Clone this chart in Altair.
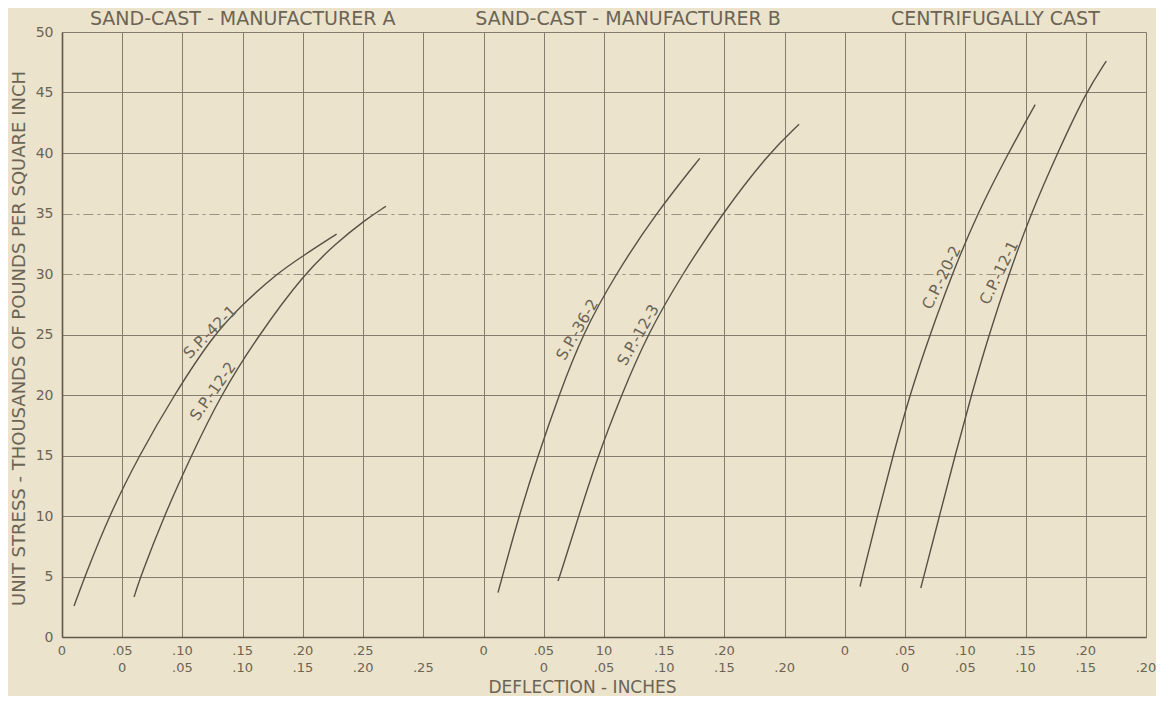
import altair as alt
import pandas as pd

# ---------------- data ----------------
panel_titles = ["SAND-CAST - MANUFACTURER A", "SAND-CAST - MANUFACTURER B", "CENTRIFUGALLY CAST"]
panel_title_center = [0.150, 0.470, 0.775]          # deflection-grid position of each title centre
panel_zero = [0.00, 0.35, 0.65]                      # grid position of each panel's first-row zero
row_shift = [0.00, 0.05]                             # second scale row starts one division later

# tick labels of the two deflection scales under each panel
tick_labels_row1 = [
    ["0", ".05", ".10", ".15", ".20", ".25"],
    ["0", ".05", "10", ".15", ".20"],
    ["0", ".05", ".10", ".15", ".20"],
]
tick_labels_row2 = [
    ["0", ".05", ".10", ".15", ".20", ".25"],
    ["0", ".05", ".10", ".15", ".20"],
    ["0", ".05", ".10", ".15", ".20"],
]
tick_step = 0.05

specimens = ["S.P.-42-1", "S.P.-12-2", "S.P.-36-2", "S.P.-12-3", "C.P.-20-2", "C.P.-12-1"]
specimen_panel = [0, 0, 1, 1, 2, 2]
specimen_row = [0, 1, 0, 1, 0, 1]

# deflection (inches, read on the specimen's own scale) and unit stress (1000 psi)
defl_sp42_1 = [0.010, 0.019, 0.039, 0.064, 0.093, 0.126, 0.150, 0.178, 0.200, 0.228]
stress_sp42_1 = [2.56, 5, 10, 15, 20, 25, 27.5, 30, 31.5, 33.3]

defl_sp12_2 = [0.0098, 0.0153, 0.0347, 0.0574, 0.0818, 0.1136, 0.151, 0.177, 0.202, 0.219]
stress_sp12_2 = [3.3, 5, 10, 15, 20, 25, 30, 32.5, 34.5, 35.6]

defl_sp36_2 = [0.012, 0.0156, 0.0294, 0.0452, 0.0627, 0.082, 0.1097, 0.143, 0.1795]
stress_sp36_2 = [3.67, 5, 10, 15, 20, 25, 30, 35, 39.56]

defl_sp12_3 = [0.0118, 0.0132, 0.029, 0.0451, 0.0645, 0.086, 0.115, 0.1483, 0.187, 0.212]
stress_sp12_3 = [4.63, 5, 10, 15, 20, 25, 30, 35, 40, 42.37]

defl_cp20_2 = [0.0126, 0.0145, 0.0270, 0.040, 0.0538, 0.0707, 0.089, 0.110, 0.1357, 0.158]
stress_cp20_2 = [4.17, 5, 10, 15, 20, 25, 30, 35, 40, 44.0]

defl_cp12_1 = [0.013, 0.0155, 0.0285, 0.0415, 0.0550, 0.0697, 0.0862, 0.1045, 0.1265, 0.150, 0.167]
stress_cp12_1 = [4.05, 5, 10, 15, 20, 25, 30, 35, 40, 45, 47.6]

specimen_defl = [defl_sp42_1, defl_sp12_2, defl_sp36_2, defl_sp12_3, defl_cp20_2, defl_cp12_1]
specimen_stress = [stress_sp42_1, stress_sp12_2, stress_sp36_2, stress_sp12_3, stress_cp20_2, stress_cp12_1]

# curve label anchor (own-scale deflection, stress) and text angle
label_defl = [0.1229, 0.0754, 0.0779, 0.0784, 0.0803, 0.0780]
label_stress = [25.2, 20.3, 25.4, 24.95, 29.7, 30.1]
label_angle = [315, 305, 300, 300, 296, 296]

y_ticks = list(range(0, 51, 5))

# ---------------- build tables ----------------
rows = []
for i, name in enumerate(specimens):
    off = panel_zero[specimen_panel[i]] + row_shift[specimen_row[i]]
    for d, s in zip(specimen_defl[i], specimen_stress[i]):
        rows.append({"specimen": name, "gx": off + d, "stress": s})
curves = pd.DataFrame(rows)

lab_rows = []
for i, name in enumerate(specimens):
    off = panel_zero[specimen_panel[i]] + row_shift[specimen_row[i]]
    lab_rows.append({"specimen": name, "gx": off + label_defl[i], "stress": label_stress[i], "ang": label_angle[i]})
labels = pd.DataFrame(lab_rows)

t1, t2 = [], []
for p in range(3):
    for k, t in enumerate(tick_labels_row1[p]):
        t1.append({"gx": panel_zero[p] + row_shift[0] + k * tick_step, "label": t})
    for k, t in enumerate(tick_labels_row2[p]):
        t2.append({"gx": panel_zero[p] + row_shift[1] + k * tick_step, "label": t})
ticks1 = pd.DataFrame(t1)
ticks2 = pd.DataFrame(t2)

titles = pd.DataFrame({"gx": panel_title_center, "title": panel_titles})

# ---------------- styling ----------------
FONT = "DejaVu Sans"
INK = "#575044"
TXT = "#6b6455"
GRID = "#857c6d"
BG = "#ece3cc"
W, H = 1084, 605

xscale = alt.Scale(domain=[0, 0.9], nice=False, zero=False)
yscale = alt.Scale(domain=[0, 50], nice=False, zero=True)

x_axis = alt.Axis(
    values=[round(i * tick_step, 4) for i in range(19)],
    labels=False, ticks=False, grid=True, gridColor=GRID, gridWidth=1,
    domain=True, domainColor="#5f584b", domainWidth=1.6,
    title="DEFLECTION - INCHES", titleFont=FONT, titleFontSize=17, titleFontWeight="normal",
    titleColor=TXT, titleX=520, titleY=55, titleAlign="center", titleBaseline="alphabetic",
)
y_axis = alt.Axis(
    values=y_ticks, ticks=False, grid=True, gridWidth=1,
    gridColor=alt.condition("datum.value == 30 || datum.value == 35", alt.value("#9a9282"), alt.value(GRID)),
    gridDash=alt.condition("datum.value == 30 || datum.value == 35", alt.value([10, 4, 3, 4]), alt.value([])),
    domain=True, domainColor="#5f584b", domainWidth=1.6,
    labelFont=FONT, labelFontSize=14, labelColor=TXT, labelPadding=9,
    title="UNIT STRESS - THOUSANDS OF POUNDS PER SQUARE INCH", titleFont=FONT, titleFontSize=18,
    titleFontWeight="normal", titleColor=TXT, titleAngle=270, titleX=-43, titleY=306,
    titleAlign="center", titleBaseline="middle",
)

lines = alt.Chart(curves).mark_line(color=INK, strokeWidth=1.4, interpolate="basis").encode(
    x=alt.X("gx:Q", scale=xscale, axis=x_axis),
    y=alt.Y("stress:Q", scale=yscale, axis=y_axis),
    detail="specimen:N",
    order="stress:Q",
)

curve_labels = alt.Chart(labels).mark_text(font=FONT, fontSize=15.5, color=TXT, align="center", baseline="middle").encode(
    x=alt.X("gx:Q", scale=xscale),
    y=alt.Y("stress:Q", scale=yscale),
    angle=alt.Angle("ang:Q", scale=None),
    text="specimen:N",
)

tick_row1 = alt.Chart(ticks1).mark_text(font=FONT, fontSize=13, color=TXT, align="center", baseline="middle").encode(
    x=alt.X("gx:Q", scale=xscale), y=alt.value(H + 14), text="label:N",
)
tick_row2 = alt.Chart(ticks2).mark_text(font=FONT, fontSize=13, color=TXT, align="center", baseline="middle").encode(
    x=alt.X("gx:Q", scale=xscale), y=alt.value(H + 30.5), text="label:N",
)

panel_heads = alt.Chart(titles).mark_text(font=FONT, fontSize=19, color=TXT, align="center", baseline="middle").encode(
    x=alt.X("gx:Q", scale=xscale), y=alt.value(-13.5), text="title:N",
)

chart = alt.layer(lines, curve_labels, tick_row1, tick_row2, panel_heads).properties(
    width=W, height=H,
    autosize=alt.AutoSizeParams(type="none"),
    padding={"left": 54, "top": 24, "right": 10, "bottom": 59},
    background=BG,
).configure_view(stroke=None).configure(font=FONT)

chart.save("out.html", embed_options={"renderer": "svg", "actions": False})
